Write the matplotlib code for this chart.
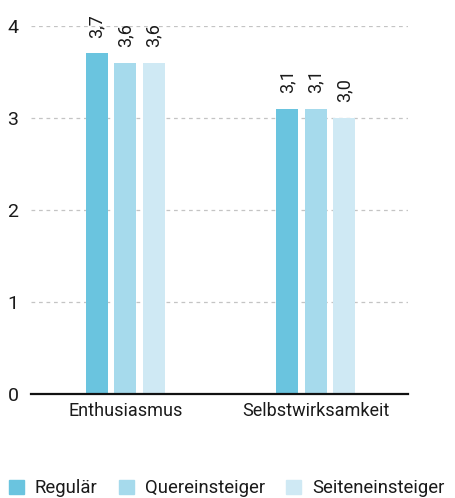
import matplotlib.pyplot as plt
import numpy as np
from matplotlib.patches import Patch

categories = ['Enthusiasmus', 'Selbstwirksamkeit']
series_names = ['Regulär', 'Quereinsteiger', 'Seiteneinsteiger']
regulaer = [3.7, 3.1]
quereinsteiger = [3.6, 3.1]
seiteneinsteiger = [3.6, 3.0]
colors = ['#6ac4df', '#a6daec', '#cfe9f4']

plt.rcParams['font.family'] = ['Roboto', 'DejaVu Sans']

fig = plt.figure(figsize=(4.55, 4.98), dpi=100)
ax = fig.add_axes([0.068, 0.209, 0.829, 0.739])

x = np.arange(len(categories))
width = 0.116
step = 0.15
values = [regulaer, quereinsteiger, seiteneinsteiger]
for i, vals in enumerate(values):
    pos = x + (i - 1) * step
    ax.bar(pos, vals, width=width, color=colors[i], zorder=3)
    for p, v in zip(pos, vals):
        ax.annotate(f'{v:.1f}'.replace('.', ','), xy=(p, v), xytext=(0, 11.5),
                    textcoords='offset points', rotation=90, ha='center', va='bottom',
                    fontsize=13, color='#1a1a1a', annotation_clip=False)

ax.set_xlim(-0.497, 1.487)
ax.set_ylim(0, 4)
ax.set_yticks([0, 1, 2, 3, 4])
ax.set_yticklabels(['0', '1', '2', '3', '4'])
ax.set_xticks(x)
ax.set_xticklabels(categories)
ax.tick_params(axis='y', length=0, pad=9, labelsize=14, labelcolor='#1a1a1a')
ax.tick_params(axis='x', length=0, pad=6, labelsize=13, labelcolor='#1a1a1a')
for yv in [1, 2, 3, 4]:
    ax.axhline(yv, color='#c4c4c4', linestyle=(0, (3, 3)), linewidth=0.9, zorder=1)
for s in ['top', 'right', 'left']:
    ax.spines[s].set_visible(False)
ax.spines['bottom'].set_linewidth(1.6)
ax.spines['bottom'].set_color('#111111')
ax.spines['bottom'].set_zorder(4)

handles = [Patch(color=c) for c in colors]
fig.legend(handles, series_names, loc='lower left', bbox_to_anchor=(9 / 455, 1 / 498), ncol=3,
           frameon=False, fontsize=13.3, handlelength=0.8, handleheight=0.8,
           handletextpad=0.6, columnspacing=1.15, borderaxespad=0, borderpad=0,
           labelcolor='#1a1a1a')

fig.savefig('out.png', dpi=100)
